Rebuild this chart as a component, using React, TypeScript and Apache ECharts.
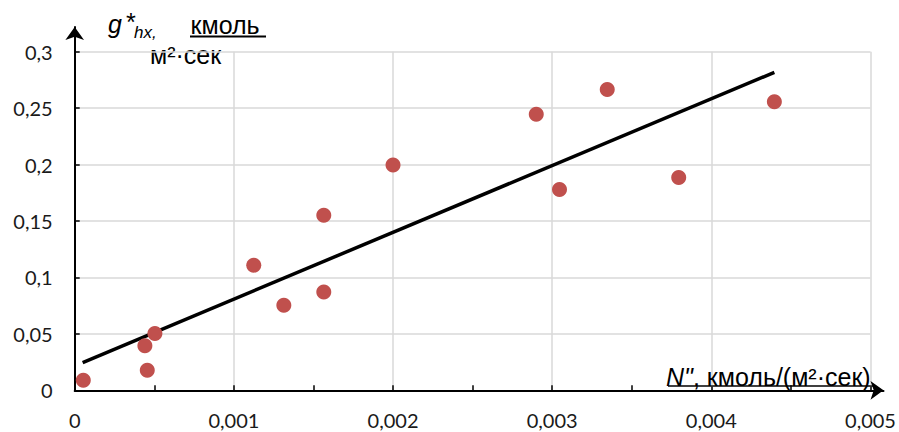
import React, { useEffect, useRef } from "react";
import * as echarts from "echarts";

// Measured points: N'' (kmol/(m²·s)) vs g*hx
const pointX = [0.000054, 0.000441, 0.000456, 0.000504, 0.001125, 0.001314, 0.001565, 0.001565, 0.002, 0.0029, 0.003046, 0.003346, 0.003795, 0.004396];
const pointY = [0.009, 0.0394, 0.0178, 0.0504, 0.1109, 0.0754, 0.0872, 0.1552, 0.1996, 0.2445, 0.178, 0.2666, 0.1886, 0.2557];
// Trend line end points
const trendX = [0.00005, 0.004396];
const trendY = [0.0246, 0.2817];
// Axis ranges
const xMin = 0, xMax = 0.005, xStep = 0.001;
const yMin = 0, yMax = 0.3, yStep = 0.05;

const fmt = (v: number) => String(+v.toFixed(4)).replace(".", ",");

export default function App() {
  const ref = useRef<HTMLDivElement>(null);
  useEffect(() => {
    document.body.style.margin = "0";
    if (!ref.current) return;
    const chart = echarts.init(ref.current, null, { renderer: "svg" });
    const labelFont = { fontFamily: "Lato", fontSize: 20, color: "#1a1a1a" };
    const titleFont = "Liberation Sans";
    chart.setOption({
      animation: false,
      grid: [
        { left: 74.7, top: 51.7, right: 28.5, bottom: 41.7, outerBoundsMode: "none" },
        { left: 74.7, top: 27, right: 15.5, bottom: 41.7, outerBoundsMode: "none" },
      ],
      xAxis: [
        {
          type: "value", gridIndex: 0, min: xMin, max: xMax, interval: xStep,
          axisLine: { show: false },
          axisTick: { show: true, inside: true, length: 5, lineStyle: { color: "#000", width: 1.5 } },
          minorTick: { show: true, splitNumber: 2, length: 5, lineStyle: { color: "#000", width: 1.5 } },
          axisLabel: { ...labelFont, margin: 20, formatter: fmt },
          splitLine: { show: true, lineStyle: { color: "#d9d9d9", width: 1.5 } },
        },
        {
          type: "value", gridIndex: 1, min: 0, max: 1,
          axisLine: { show: true, symbol: ["none", "arrow"], symbolSize: [14, 13], lineStyle: { color: "#000", width: 2 } },
          axisTick: { show: false }, axisLabel: { show: false }, splitLine: { show: false },
        },
      ],
      yAxis: [
        {
          type: "value", gridIndex: 0, min: yMin, max: yMax, interval: yStep,
          axisLine: { show: false },
          axisTick: { show: true, inside: true, length: 5, lineStyle: { color: "#000", width: 1.5 } },
          axisLabel: { ...labelFont, margin: 22, formatter: fmt },
          splitLine: { show: true, lineStyle: { color: "#d9d9d9", width: 1.5 } },
        },
        {
          type: "value", gridIndex: 1, min: 0, max: 1,
          axisLine: { show: true, symbol: ["none", "arrow"], symbolSize: [14, 13], lineStyle: { color: "#000", width: 2 } },
          axisTick: { show: false }, axisLabel: { show: false }, splitLine: { show: false },
        },
      ],
      series: [
        {
          type: "line", xAxisIndex: 0, yAxisIndex: 0,
          data: trendX.map((x, i) => [x, trendY[i]]),
          showSymbol: false, symbol: "none",
          lineStyle: { color: "#000", width: 3.5 }, z: 3,
        },
        {
          type: "scatter", xAxisIndex: 0, yAxisIndex: 0,
          data: pointX.map((x, i) => [x, pointY[i]]),
          symbolSize: 15, itemStyle: { color: "#C0504D", opacity: 1 }, z: 4,
        },
      ],
      graphic: [
        { type: "text", x: 108, y: 24.3, style: { text: "g", fontFamily: titleFont, fontStyle: "italic", fontSize: 25, fill: "#000", verticalAlign: "middle" } },
        { type: "text", x: 125, y: 22, style: { text: "*", fontFamily: titleFont, fontStyle: "italic", fontSize: 25, fill: "#000", verticalAlign: "middle" } },
        { type: "text", x: 134, y: 32.4, style: { text: "hx,", fontFamily: titleFont, fontStyle: "italic", fontSize: 17, fill: "#000", verticalAlign: "middle" } },
        { type: "text", x: 190.5, y: 24.6, style: { text: "кмоль", fontFamily: titleFont, fontSize: 25, fill: "#000", verticalAlign: "middle" } },
        { type: "line", shape: { x1: 190, y1: 36.5, x2: 266, y2: 36.5 }, style: { stroke: "#000", lineWidth: 2 } },
        { type: "text", x: 150, y: 54.6, style: { text: "м²·сек", fontFamily: titleFont, fontSize: 25, fill: "#000", verticalAlign: "middle" } },
        {
          type: "text", x: 666, y: 377.3, z: 10,
          style: {
            text: "{a|N\"}{b|, кмоль/(м²·сек)}",
            verticalAlign: "middle",
            rich: {
              a: { fontFamily: titleFont, fontStyle: "italic", fontSize: 25, fill: "#000", color: "#000" },
              b: { fontFamily: titleFont, fontSize: 25, fill: "#000", color: "#000" },
            },
          },
        },
        { type: "line", shape: { x1: 668, y1: 386, x2: 874, y2: 386 }, style: { stroke: "#000", lineWidth: 1.5 } },
      ],
    });
    return () => chart.dispose();
  }, []);
  return <div ref={ref} style={{ width: 899, height: 432 }} />;
}
